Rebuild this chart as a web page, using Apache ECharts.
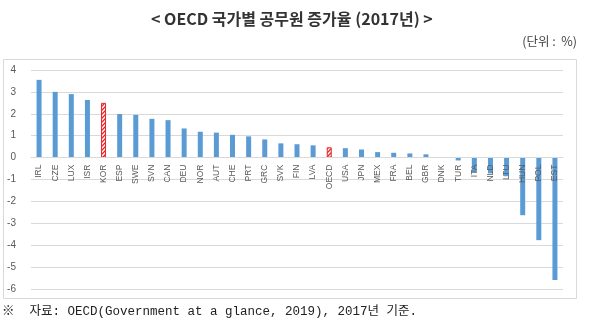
<!DOCTYPE html>
<html><head><meta charset="utf-8">
<script src="https://cdn.jsdelivr.net/npm/echarts@6/dist/echarts.min.js"></script>
<style>html,body{margin:0;padding:0;background:#fff;}#c{width:600px;height:332px;}</style>
</head><body><div id="c"></div>
<script>
const categories = ['IRL','CZE','LUX','ISR','KOR','ESP','SWE','SVN','CAN','DEU','NOR','AUT','CHE','PRT','GRC','SVK','FIN','LVA','OECD','USA','JPN','MEX','FRA','BEL','GBR','DNK','TUR','ITA','NLD','LTU','HUN','POL','EST'];
const values = [3.55,3.0,2.9,2.63,2.5,1.99,1.95,1.77,1.71,1.33,1.18,1.14,1.04,0.97,0.83,0.65,0.61,0.56,0.47,0.43,0.37,0.25,0.22,0.19,0.15,0,-0.13,-0.68,-0.72,-0.85,-2.63,-3.77,-5.59];
const highlighted = ['KOR','OECD'];
const yTicks = {min:-6, max:4, interval:1};

const cv = document.createElement('canvas');
cv.width = 4; cv.height = 4;
const g = cv.getContext('2d');
g.fillStyle = '#ffffff'; g.fillRect(0,0,4,4);
g.strokeStyle = '#e8262a'; g.lineWidth = 1.3;
g.beginPath(); g.moveTo(-1,5); g.lineTo(5,-1); g.stroke();
g.beginPath(); g.moveTo(-1,1); g.lineTo(1,-1); g.stroke();
g.beginPath(); g.moveTo(3,5); g.lineTo(5,3); g.stroke();

const seriesData = categories.map((c,i)=> highlighted.includes(c)
  ? {value: values[i], itemStyle:{color:{image:cv, repeat:'repeat'}, borderColor:'#e8262a', borderWidth:1}}
  : {value: values[i]});

const gridTop = 70, gridBottom = 43, plotH = 332 - gridTop - gridBottom;
const zeroOffset = -plotH * (0 - yTicks.min) / (yTicks.max - yTicks.min);

const chart = echarts.init(document.getElementById('c'), null, {renderer:'canvas'});
chart.setOption({
  animation:false,
  backgroundColor:'#fff',
  title:{
    text:'< OECD 국가별 공무원 증가율 (2017년) >',
    left:146, top:6,
    textStyle:{fontFamily:'Noto Sans CJK KR', fontSize:16, fontWeight:'bold', color:'#333'}
  },
  graphic:[
    {type:'rect', shape:{x:3.5,y:59.5,width:573,height:239}, style:{fill:'none', stroke:'#d9d9d9', lineWidth:1}, z:0},
    {type:'text', right:23, top:35, style:{text:'(단위 :  %)', fontFamily:'Noto Sans CJK KR', fontSize:12.5, fill:'#444'}},
    {type:'text', left:2, top:305, style:{text:'※  자료: OECD(Government at a glance, 2019), 2017년 기준.', fontFamily:'Liberation Mono, Noto Sans CJK KR', fontSize:12.5, fill:'#222'}}
  ],
  grid:{left:31, right:37, top:gridTop, bottom:gridBottom},
  xAxis:{
    type:'category', data:categories, z:5, offset: zeroOffset,
    axisLine:{onZero:false, lineStyle:{color:'#d9d9d9'}},
    axisTick:{show:false},
    axisLabel:{interval:0, rotate:90, fontSize:8.5, color:'#595959', margin:7, fontFamily:'Liberation Sans'}
  },
  yAxis:{
    type:'value', min:yTicks.min, max:yTicks.max, interval:yTicks.interval,
    axisLine:{show:false}, axisTick:{show:false},
    splitLine:{lineStyle:{color:'#d9d9d9'}},
    axisLabel:{fontSize:10, color:'#595959', margin:15, fontFamily:'Liberation Sans'}
  },
  series:[{
    type:'bar', data:seriesData, barWidth:5,
    itemStyle:{color:'#5b9bd5'}
  }]
});
</script></body></html>
